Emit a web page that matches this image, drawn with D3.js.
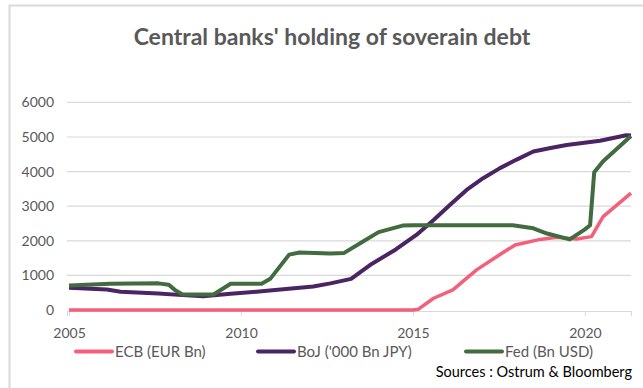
<!DOCTYPE html>
<html><head><meta charset="utf-8">
<script src="https://cdn.jsdelivr.net/npm/d3@7"></script>
<style>body{margin:0;background:#fff}svg{display:block}</style>
</head><body><svg id="c" width="643" height="388"></svg>
<script>
const yTicks = [0,1000,2000,3000,4000,5000,6000];
const xTicks = [2005,2010,2015,2020];
const seriesNames = ["ECB (EUR Bn)","BoJ ('000 Bn JPY)","Fed (Bn USD)"];
const seriesColors = ["#F4607A","#4B2463","#426B3F"];

const ecbYears = [2005,2015.0,2015.15,2015.6,2016.16,2016.85,2017.43,2017.97,2018.7,2019.18,2019.76,2020.19,2020.53,2021.34];
const ecbValues = [0,0,20,340,580,1160,1540,1880,2040,2100,2050,2120,2700,3380];

const bojYears = [2005,2006.1,2006.5,2007.6,2008.3,2008.9,2009.7,2010.6,2012.1,2012.6,2013.2,2013.75,2014.5,2015.1,2015.6,2016.08,2016.56,2017.04,2017.53,2018.0,2018.5,2019.0,2019.47,2020.44,2021.2,2021.34];
const bojValues = [640,590,530,480,430,400,470,540,680,770,900,1300,1750,2170,2600,3040,3470,3810,4100,4340,4580,4680,4770,4890,5050,5040];

const fedYears = [2005,2006.2,2007.6,2007.9,2008.1,2008.3,2009.2,2009.7,2010.6,2010.85,2011.4,2011.7,2012.6,2013.0,2013.5,2014.0,2014.7,2015.0,2017.9,2018.5,2018.9,2019.56,2020.0,2020.15,2020.27,2020.53,2021.34];
const fedValues = [710,760,770,730,560,450,450,760,760,900,1600,1660,1630,1650,1950,2250,2440,2450,2450,2360,2210,2040,2330,2450,3980,4300,5030];

const svg = d3.select("#c");
const font = "Lato, 'Open Sans', sans-serif";
const grey = "#595959";

svg.append("path").attr("d","M9.5,388 V5.5 H643").attr("fill","none").attr("stroke","#d9d9d9").attr("stroke-width",2);

const x = d3.scaleLinear().domain([2004.94,2021.34]).range([67,631]);
const y = d3.scaleLinear().domain([0,6000]).range([310,102.4]);

svg.append("g").selectAll("line").data(yTicks.slice(1)).join("line")
  .attr("x1",67).attr("x2",631).attr("y1",d=>y(d)).attr("y2",d=>y(d))
  .attr("stroke","#d9d9d9").attr("stroke-width",1.2);

svg.append("g").selectAll("text").data(yTicks).join("text")
  .attr("x",54).attr("y",d=>y(d)+5).attr("text-anchor","end")
  .attr("font-family",font).attr("font-size",14).attr("fill",grey).text(d=>d);

const xa = svg.append("g").attr("transform","translate(0,311)")
  .call(d3.axisBottom(x).tickValues(xTicks).tickFormat(d3.format("d")).tickSize(5).tickPadding(0));
xa.select(".domain").attr("stroke","#d9d9d9").attr("stroke-width",1.2);
xa.selectAll(".tick line").attr("stroke","#d9d9d9");
xa.selectAll("text").attr("dy",null).attr("y",27).attr("font-family",font).attr("font-size",14).attr("fill",grey);

const line = d3.line().x(d=>x(d[0])).y(d=>y(d[1]));
const sets = [
  [ecbYears,ecbValues,3.5],
  [bojYears,bojValues,4],
  [fedYears,fedValues,4]
];
sets.forEach((s,i)=>{
  const pts = s[0].map((yr,j)=>[yr,s[1][j]]);
  svg.append("path").datum(pts).attr("d",line).attr("fill","none")
    .attr("stroke",seriesColors[i]).attr("stroke-width",s[2]).attr("stroke-linejoin","round");
});

svg.append("text").attr("x",332).attr("y",45).attr("text-anchor","middle")
  .attr("font-family",font).attr("font-weight","bold").attr("font-size",23).attr("fill",grey)
  .text("Central banks' holding of soverain debt");

const lx = [76,258,466];
seriesNames.forEach((n,i)=>{
  const g = svg.append("g");
  g.append("line").attr("x1",lx[i]).attr("x2",lx[i]+36).attr("y1",351.5).attr("y2",351.5)
    .attr("stroke",seriesColors[i]).attr("stroke-width",4).attr("stroke-linecap","round");
  g.append("text").attr("x",lx[i]+39).attr("y",356.5).attr("font-family",font).attr("font-size",15)
    .attr("fill",grey).text(n);
});

svg.append("text").attr("x",632).attr("y",377).attr("text-anchor","end")
  .attr("font-family",font).attr("font-size",14.5).attr("fill","#000")
  .text("Sources : Ostrum & Bloomberg");
</script></body></html>
